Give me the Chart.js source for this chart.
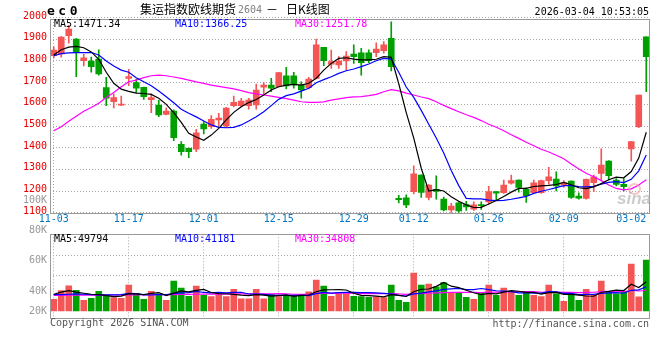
<!DOCTYPE html>
<html><head><meta charset="utf-8">
<script src="https://cdn.jsdelivr.net/npm/chart.js@4.4.1/dist/chart.umd.min.js"></script>
<style>
html,body{margin:0;padding:0;background:#fff;}
#wrap{position:relative;width:660px;height:360px;overflow:hidden;font-family:'DejaVu Sans Mono',monospace;font-size:10px;background:#fff;}
canvas{position:absolute;left:0;}
#c1{top:0;}
#c2{top:226px;}
.t{position:absolute;white-space:pre;line-height:12px;font-size:10px;}
.r{text-align:right;}
</style></head><body>
<div id="wrap">
<canvas id="c1" width="660" height="230"></canvas>
<canvas id="c2" width="660" height="100"></canvas>

<div class="t" style="left:47px;top:4px;font-weight:bold;font-size:13px;line-height:14px;letter-spacing:3.5px;">ec0</div>
<div class="t" style="left:140px;top:3px;font-family:'Noto Sans CJK SC';font-size:12px;">集运指数欧线期货</div>
<div class="t" style="left:238px;top:4px;color:#808080;">2604</div>
<div class="t" style="left:266px;top:3px;font-family:'Noto Sans CJK SC';font-size:12px;">－</div>
<div class="t" style="left:286px;top:3px;font-family:'Noto Sans CJK SC';font-size:12px;">日K线图</div>
<div class="t r" style="right:11px;top:6px;">2026-03-04 10:53:05</div>

<div class="t" style="left:54px;top:18px;color:#000;">MA5:1471.34</div>
<div class="t" style="left:175px;top:18px;color:#0000ff;">MA10:1366.25</div>
<div class="t" style="left:295px;top:18px;color:#ff00ff;">MA30:1251.78</div>

<div class="t" style="left:54px;top:233px;color:#000;">MA5:49794</div>
<div class="t" style="left:175px;top:233px;color:#0000ff;">MA10:41181</div>
<div class="t" style="left:295px;top:233px;color:#ff00ff;">MA30:34808</div>

<div class="t r" style="right:613px;top:194px;color:#999;">100K</div>
<div class="t r" style="right:613px;top:224px;color:#999;">80K</div>
<div class="t r" style="right:613px;top:254px;color:#999;">60K</div>
<div class="t r" style="right:613px;top:285px;color:#999;">40K</div>
<div class="t r" style="right:613px;top:305px;color:#999;">20K</div>

<div class="t" style="left:50px;top:317px;color:#555;">Copyright 2026 SINA.COM</div>
<div class="t r" style="right:11px;top:318px;color:#555;">http://finance.sina.com.cn</div>

<div style="position:absolute;left:628px;top:183px;width:9px;height:8px;border-radius:50%;border:2px solid rgba(240,150,150,0.55);"></div>
<div class="t" style="left:617px;top:190px;font-family:'Liberation Sans';font-style:italic;font-weight:bold;font-size:17px;line-height:18px;color:rgba(170,170,170,0.6);">sina</div>
</div>

<script>
// ---------- data ----------
const DATES = ['11-03','11-04','11-05','11-06','11-07','11-10','11-11','11-12','11-13','11-14',
'11-17','11-18','11-19','11-20','11-21','11-24','11-25','11-26','11-27','11-28',
'12-01','12-02','12-03','12-04','12-05','12-08','12-09','12-10','12-11','12-12',
'12-15','12-16','12-17','12-18','12-19','12-22','12-23','12-24','12-25','12-26',
'12-29','12-30','12-31','01-05','01-06','01-07','01-08','01-09','01-12','01-13',
'01-14','01-15','01-16','01-19','01-20','01-21','01-22','01-23','01-26','01-27',
'01-28','01-29','01-30','02-02','02-03','02-04','02-05','02-06','02-09','02-10',
'02-11','02-12','02-13','02-24','02-25','02-26','02-27','03-02','03-03','03-04'];

const X_TICKS = ['11-03','11-17','12-01','12-15','12-29','01-12','01-26','02-09','03-02'];
const GRID_DATES = ['11-03','11-17','12-01','12-15','12-29','01-12','01-26','02-09'];
const PRICE_TICKS = [1100,1200,1300,1400,1500,1600,1700,1800,1900,2000];
const VOL_GRID = [60000,94000];

const OPEN = [1825,1833,1917,1901,1801,1800,1809,1677,1612,1596,
1720,1700,1679,1621,1597,1554,1569,1416,1397,1393,
1509,1497,1528,1500,1594,1594,1594,1597,1679,1689,
1681,1731,1731,1689,1677,1720,1863,1785,1782,1800,
1832,1838,1838,1838,1848,1905,1166,1169,1197,1274,
1171,1208,1163,1113,1146,1137,1116,1137,1150,1197,
1192,1236,1251,1208,1192,1192,1248,1255,1228,1246,
1177,1166,1238,1281,1338,1251,1231,1394,1497,1912];
const HIGH = [1865,1913,1965,1903,1831,1818,1851,1725,1648,1638,
1762,1716,1680,1648,1619,1584,1575,1428,1398,1485,
1520,1548,1559,1586,1638,1628,1628,1694,1700,1720,
1748,1771,1748,1704,1725,1901,1863,1850,1820,1843,
1874,1858,1851,1884,1889,1981,1180,1182,1316,1275,
1230,1270,1172,1143,1151,1152,1150,1150,1222,1198,
1251,1274,1252,1215,1251,1250,1309,1289,1248,1247,
1192,1256,1274,1395,1340,1258,1258,1429,1643,1912];
const LOW = [1815,1818,1882,1728,1777,1748,1735,1594,1584,1594,
1686,1654,1623,1561,1543,1551,1432,1366,1354,1382,
1463,1489,1500,1492,1588,1588,1578,1578,1648,1658,
1680,1671,1674,1628,1671,1717,1778,1766,1766,1758,
1789,1735,1792,1820,1836,1754,1145,1123,1187,1170,
1159,1163,1108,1099,1100,1110,1110,1115,1138,1155,
1189,1232,1195,1148,1189,1189,1232,1200,1217,1166,
1162,1163,1197,1250,1251,1223,1200,1338,1492,1658];
const CLOSE = [1850,1910,1947,1840,1815,1774,1740,1628,1631,1601,
1728,1674,1635,1631,1551,1569,1446,1382,1382,1468,
1486,1531,1536,1583,1609,1615,1620,1666,1689,1674,
1746,1685,1690,1666,1717,1874,1801,1797,1800,1823,
1820,1792,1801,1855,1874,1774,1160,1136,1279,1193,
1228,1198,1113,1131,1108,1127,1136,1132,1197,1190,
1228,1248,1217,1178,1238,1248,1266,1223,1238,1171,
1167,1254,1266,1320,1271,1231,1220,1428,1643,1820];

const MA5 = [1828,1852,1864,1867,1861,1842,1808,1748,1697,1670,
1660,1652,1650,1646,1628,1600,1562,1517,1466,1449,
1434,1458,1489,1528,1563,1589,1608,1622,1643,1666,
1681,1689,1692,1689,1697,1720,1758,1789,1812,1815,
1809,1805,1805,1808,1820,1817,1695,1562,1444,1305,
1200,1206,1200,1174,1153,1136,1124,1125,1140,1156,
1175,1195,1212,1212,1221,1224,1226,1230,1240,1229,
1215,1211,1219,1234,1252,1264,1261,1290,1352,1471.34];
const MA10 = [1824,1834,1837,1839,1839,1839,1828,1800,1777,1758,
1748,1723,1704,1686,1661,1635,1607,1577,1559,1542,
1523,1505,1494,1492,1494,1505,1523,1543,1566,1594,
1623,1640,1648,1661,1674,1700,1714,1727,1743,1755,
1763,1774,1786,1801,1812,1809,1748,1680,1632,1572,
1508,1445,1375,1295,1225,1166,1164,1164,1158,1156,
1157,1162,1168,1175,1189,1199,1207,1216,1225,1225,
1220,1219,1222,1232,1240,1243,1239,1254,1293,1366.25];
const MA30 = [1478,1497,1522,1545,1568,1585,1605,1631,1655,1681,
1704,1712,1723,1732,1735,1732,1726,1720,1712,1704,
1697,1689,1683,1677,1671,1663,1654,1648,1643,1638,
1632,1626,1619,1612,1609,1609,1611,1619,1625,1631,
1634,1636,1640,1646,1658,1668,1662,1652,1643,1634,
1626,1612,1595,1580,1566,1552,1540,1525,1508,1494,
1478,1460,1443,1425,1409,1393,1380,1365,1349,1325,
1302,1282,1266,1248,1228,1212,1205,1210,1228,1251.78];

const VOL = [19950,34770,42750,35340,18240,21660,33630,26220,22800,21660,
43890,30210,19950,33630,29070,18240,50730,38760,25080,42180,
26790,24510,28500,24510,37050,20520,20520,37050,20520,28500,
24510,26220,24510,28500,32490,52440,42180,25080,29640,29070,
25080,24510,23370,23940,22800,43890,18240,14820,64410,43890,
45600,41040,48450,31920,31920,23370,19950,31350,43890,26790,
38760,31920,26790,33630,26790,24510,43890,29070,16530,26790,
18240,37050,26790,50730,33630,29070,33630,79800,23940,86640];
const VMA5 = [28500,32000,34500,32000,30200,28500,28000,26000,24500,25200,
29600,29000,27700,29900,31400,26200,30300,34100,32400,35000,
36700,31500,29400,29300,28300,27000,26200,27900,27100,25400,
26200,27400,24800,26400,27200,32800,36000,36100,36400,35700,
30200,26700,26300,25200,23900,27700,26400,24700,32800,37000,
37400,41900,48700,42200,39800,35300,31100,27700,30100,29100,
32200,34600,33600,31600,31600,28700,31100,31600,28200,28200,
26900,25500,25100,31900,33300,35500,34800,45400,40000,49794];
const VMA10 = [28000,28000,28500,29000,28500,28000,27500,27500,27500,27700,
30100,29600,27400,27200,28300,27900,29600,30900,31100,33200,
31500,30900,31800,30800,31600,31900,28900,28700,28200,26900,
26600,26800,26400,26800,26300,29500,31700,30500,31400,31500,
31500,31400,31200,30800,29800,29000,26600,25500,29000,30500,
32500,34200,36700,37500,38400,36400,36500,38200,36200,34400,
33800,32900,30700,30900,30300,30500,32800,32600,29900,29900,
27800,28300,28300,30000,30700,31200,30200,35200,36000,41181];
const VMA30 = [26500,26500,26800,27000,27000,27000,27000,27200,27200,27300,
27500,27500,27600,27600,27800,27800,28000,28200,28300,28500,
28600,28700,28800,28800,28900,29000,29000,29100,29200,29200,
29400,29100,28500,28300,28800,29800,30100,30000,30300,30500,
29900,29700,29800,29500,29300,30100,29000,28200,29500,29600,
30200,30800,31400,31700,31500,31600,31600,31400,32200,32100,
32600,32800,32900,33000,32900,31900,32000,32100,31700,31600,
31400,31800,31900,32800,33200,32700,33200,35300,34000,34808];

// ---------- styling ----------
const UP = '#f45656', DOWN = '#00a000';
const GRID = '#a8a8a8', FRAME = '#9a9a9a';
const MONO = "'DejaVu Sans Mono', monospace";

const candleColors = CLOSE.map((c, i) => c >= OPEN[i] ? UP : DOWN);
const volColors = CLOSE.map((c, i) => c >= OPEN[i] ? UP : DOWN);
const bodies = OPEN.map((o, i) => [o, CLOSE[i]]);
const wicks = LOW.map((l, i) => [l, HIGH[i]]);

const framePlugin = {
  id: 'frame',
  afterDatasetsDraw(chart) {
    const { ctx, chartArea: a } = chart;
    ctx.save();
    ctx.strokeStyle = FRAME;
    ctx.lineWidth = 1;
    ctx.strokeRect(Math.round(a.left) + 0.5, Math.round(a.top) + 0.5,
      Math.round(a.right - a.left) - 1, Math.round(a.bottom - a.top));
    ctx.restore();
  }
};

const gridColorX = c => GRID_DATES.includes(DATES[c.index]) ? GRID : 'rgba(0,0,0,0)';

const lineDs = (data, color, order) => ({
  type: 'line', data, borderColor: color, borderWidth: 1.2, pointRadius: 0,
  tension: 0, fill: false, order
});

new Chart(document.getElementById('c1'), {
  data: {
    labels: DATES,
    datasets: [
      { type: 'bar', data: wicks, backgroundColor: candleColors, barThickness: 1, grouped: false, borderWidth: 0, order: 5 },
      { type: 'bar', data: bodies, backgroundColor: candleColors, barThickness: 6, grouped: false, borderWidth: 0, minBarLength: 1, order: 4 },
      lineDs(MA30, '#ff00ff', 3),
      lineDs(MA10, '#0000ff', 2),
      lineDs(MA5, '#000000', 1)
    ]
  },
  options: {
    responsive: false, animation: false,
    layout: { padding: { top: 19, right: 10, bottom: 3.3, left: 0 } },
    plugins: { legend: { display: false }, tooltip: { enabled: false } },
    scales: {
      x: {
        type: 'category', offset: true,
        grid: { offset: false, color: gridColorX, drawTicks: false, lineWidth: 1 },
        border: { display: false, dash: [1, 2] },
        ticks: {
          autoSkip: false, maxRotation: 0, minRotation: 0, padding: 1,
          color: '#0078c8', font: { family: MONO, size: 10 },
          callback: (v, i) => X_TICKS.includes(DATES[i]) ? DATES[i] : null
        },
        afterFit: s => { s.height = 14; }
      },
      y: {
        type: 'linear', min: 1100, max: 1993.7,
        afterBuildTicks: s => { s.ticks = PRICE_TICKS.map(v => ({ value: v })); },
        grid: { color: GRID, drawTicks: false, lineWidth: 1 },
        border: { display: false, dash: [1, 2] },
        ticks: {
          color: '#e80000', font: { family: MONO, size: 10 }, padding: 3, labelOffset: -1.5,
          callback: v => String(v)
        },
        afterFit: s => { s.width = 50; }
      }
    }
  },
  plugins: [framePlugin]
});

new Chart(document.getElementById('c2'), {
  data: {
    labels: DATES,
    datasets: [
      { type: 'bar', data: VOL, backgroundColor: volColors, barThickness: 6, borderWidth: 0, order: 4 },
      lineDs(VMA30, '#ff00ff', 3),
      lineDs(VMA10, '#0000ff', 2),
      lineDs(VMA5, '#000000', 1)
    ]
  },
  options: {
    responsive: false, animation: false,
    layout: { padding: { top: 8.3, right: 10, bottom: 7.7, left: 0 } },
    plugins: { legend: { display: false }, tooltip: { enabled: false } },
    scales: {
      x: {
        type: 'category', offset: true,
        grid: { offset: false, color: gridColorX, drawTicks: false, lineWidth: 1 },
        border: { display: false, dash: [1, 2] },
        ticks: { display: false, autoSkip: false },
        afterFit: s => { s.height = 0; }
      },
      y: {
        type: 'linear', min: -12410, max: 130390,
        afterBuildTicks: s => { s.ticks = VOL_GRID.map(v => ({ value: v })); },
        grid: { color: GRID, drawTicks: false, lineWidth: 1 },
        border: { display: false, dash: [1, 2] },
        ticks: { display: false },
        afterFit: s => { s.width = 50; }
      }
    }
  },
  plugins: [framePlugin]
});
</script>
</body></html>
